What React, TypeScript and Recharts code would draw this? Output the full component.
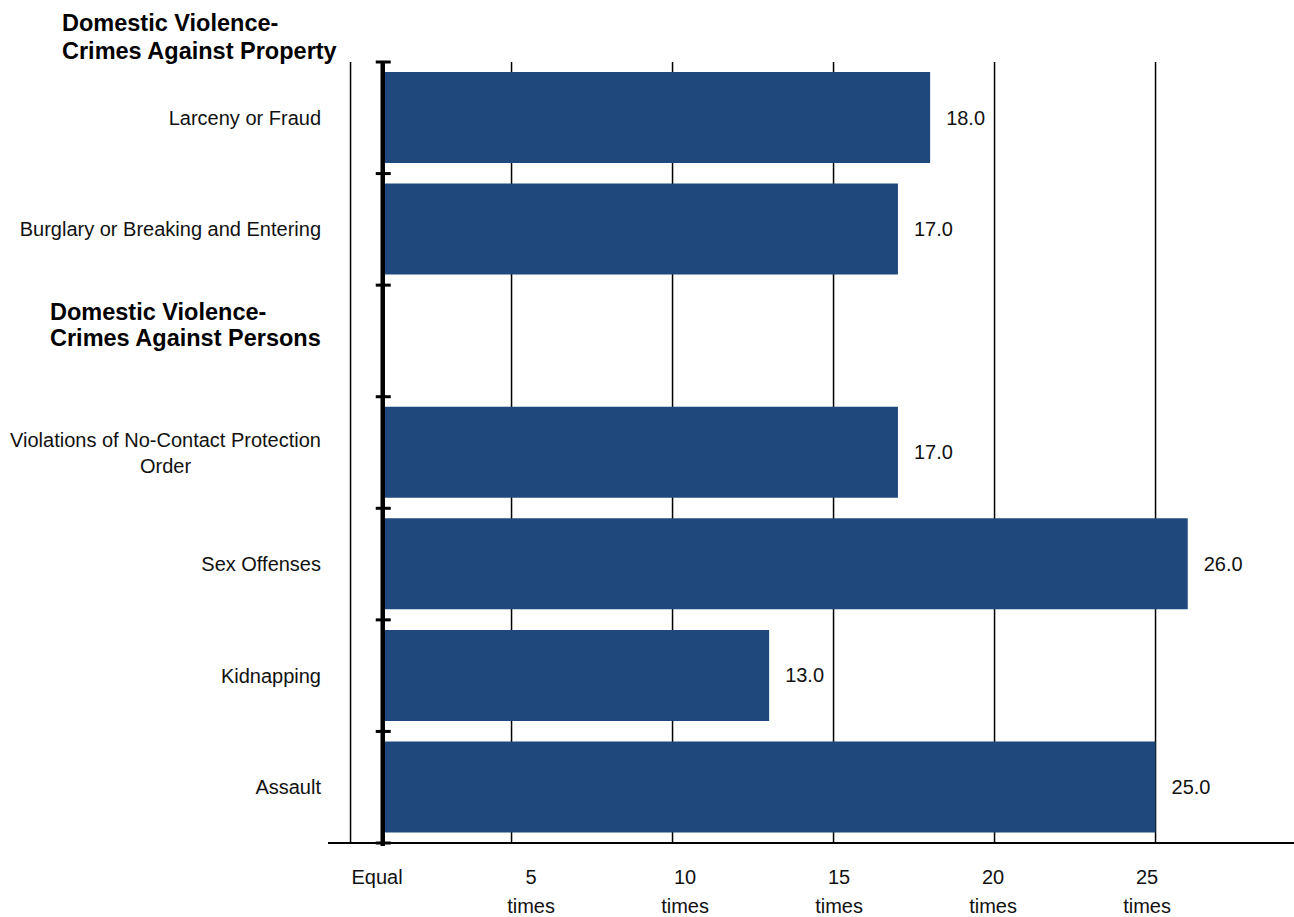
import React from 'react';
import { BarChart, Bar, XAxis, YAxis, CartesianGrid, ReferenceLine, LabelList } from 'recharts';

// group headings
const groupTitles = [
  'Domestic Violence-\nCrimes Against Property',
  'Domestic Violence-\nCrimes Against Persons',
];

// crimes against property
const propertyCrimes = ['Larceny or Fraud', 'Burglary or Breaking and Entering'];
const propertyRatios = [18.0, 17.0];

// crimes against persons
const personCrimes = [
  'Violations of No-Contact Protection\nOrder',
  'Sex Offenses',
  'Kidnapping',
  'Assault',
];
const personRatios = [17.0, 26.0, 13.0, 25.0];

const xTicks = [0, 5, 10, 15, 20, 25];
const X_DOMAIN = [-0.7, 29.3];
const EQUAL = 1; // a ratio of 1 means "equal", bars grow from here

const data = [
  ...propertyCrimes.map((name, i) => ({ name, value: propertyRatios[i], range: [EQUAL, propertyRatios[i]] })),
  { name: groupTitles[1] },
  ...personCrimes.map((name, i) => ({ name, value: personRatios[i], range: [EQUAL, personRatios[i]] })),
];

const FONT = "'Liberation Sans', Arial, sans-serif";
const TEXT = '#111';

function textWidth(s: string, size: number, weight = 'normal') {
  const ctx = document.createElement('canvas').getContext('2d');
  if (!ctx) return s.length * size * 0.5;
  ctx.font = `${weight} ${size}px ${FONT}`;
  return ctx.measureText(s).width;
}

function CategoryTick(props: any) {
  const { x, y, payload } = props;
  const label = String(payload.value);
  const lines = label.split('\n');

  if (groupTitles.includes(label)) {
    return (
      <text x={x - 271} y={y} textAnchor="start" fontFamily={FONT} fontSize={23.5} fontWeight="bold" fill="#000">
        {lines.map((l, i) => (
          <tspan key={i} x={x - 271} y={y - 29 + i * 26} dy="0.355em">{l}</tspan>
        ))}
      </text>
    );
  }

  if (lines.length === 1) {
    return (
      <text x={x} y={y} dy="0.355em" textAnchor="end" fontFamily={FONT} fontSize={20} fill={TEXT}>
        {label}
      </text>
    );
  }

  const w = Math.max(...lines.map((l) => textWidth(l, 20)));
  const cx = x - w / 2;
  return (
    <text textAnchor="middle" fontFamily={FONT} fontSize={20} fill={TEXT}>
      {lines.map((l, i) => (
        <tspan key={i} x={cx} y={y + (i - (lines.length - 1) / 2) * 26} dy="0.355em">{l}</tspan>
      ))}
    </text>
  );
}

function TimesTick(props: any) {
  const { x, y, payload, index } = props;
  const lines = payload.value === 0 ? ['Equal'] : [String(payload.value), 'times'];
  // labels are spread a little tighter than the gridlines in the original
  const lx = x + 26.5 - 7 * index;
  return (
    <text textAnchor="middle" fontFamily={FONT} fontSize={20} fill={TEXT}>
      {lines.map((l, i) => (
        <tspan key={i} x={lx} y={y + 39 + i * 29}>{l}</tspan>
      ))}
    </text>
  );
}

// thick axis at "equal" with tick marks between the categories
function Spine(props: any) {
  const { x1, y1, y2 } = props;
  const top = Math.min(y1, y2);
  const bottom = Math.max(y1, y2);
  const step = (bottom - top) / data.length;
  return (
    <g>
      <line x1={x1} x2={x1} y1={top} y2={bottom + 3} stroke="#000" strokeWidth={4.5} />
      {Array.from({ length: data.length + 1 }, (_, i) => (
        <line key={i} x1={x1 - 7} x2={x1 + 8} y1={top + i * step} y2={top + i * step}
          stroke="#000" strokeWidth={3} />
      ))}
    </g>
  );
}

// gridlines only at the value ticks
function gridX({ xAxis, offset }: any) {
  if (xAxis && typeof xAxis.scale === 'function') return xTicks.map((t) => xAxis.scale(t));
  const [d0, d1] = X_DOMAIN;
  return xTicks.map((t) => offset.left + ((t - d0) / (d1 - d0)) * offset.width);
}

export default function App() {
  return (
    <div style={{ position: 'absolute', left: 0, top: 0, width: 1294, height: 917, background: '#fff' }}>
      <div style={{
        position: 'absolute', left: 62, top: 9, fontFamily: FONT, fontSize: 23.5, fontWeight: 'bold',
        lineHeight: '28px', whiteSpace: 'pre-line', color: '#000',
      }}>
        {groupTitles[0]}
      </div>
      <BarChart
        width={1294}
        height={917}
        data={data}
        layout="vertical"
        margin={{ top: 62, right: 0, bottom: 0, left: 0 }}
        barCategoryGap="9%"
      >
        <CartesianGrid horizontal={false} stroke="#000" strokeWidth={1.5} verticalCoordinatesGenerator={gridX} />
        <XAxis
          type="number"
          domain={X_DOMAIN}
          ticks={xTicks}
          allowDataOverflow
          interval={0}
          height={74}
          tickLine={false}
          tickSize={0}
          axisLine={{ stroke: '#000', strokeWidth: 2 }}
          tick={<TimesTick />}
        />
        <YAxis
          type="category"
          dataKey="name"
          width={328}
          interval={0}
          tickLine={false}
          axisLine={false}
          tickSize={0}
          tickMargin={7}
          tick={<CategoryTick />}
        />
        <Bar dataKey="range" fill="#1F497D" isAnimationActive={false}>
          <LabelList
            dataKey="value"
            position="right"
            offset={16}
            formatter={(v: any) => (v == null ? '' : Number(v).toFixed(1))}
            style={{ fontFamily: FONT, fontSize: 20, fill: TEXT }}
          />
        </Bar>
        <ReferenceLine x={EQUAL} shape={<Spine />} />
      </BarChart>
    </div>
  );
}
